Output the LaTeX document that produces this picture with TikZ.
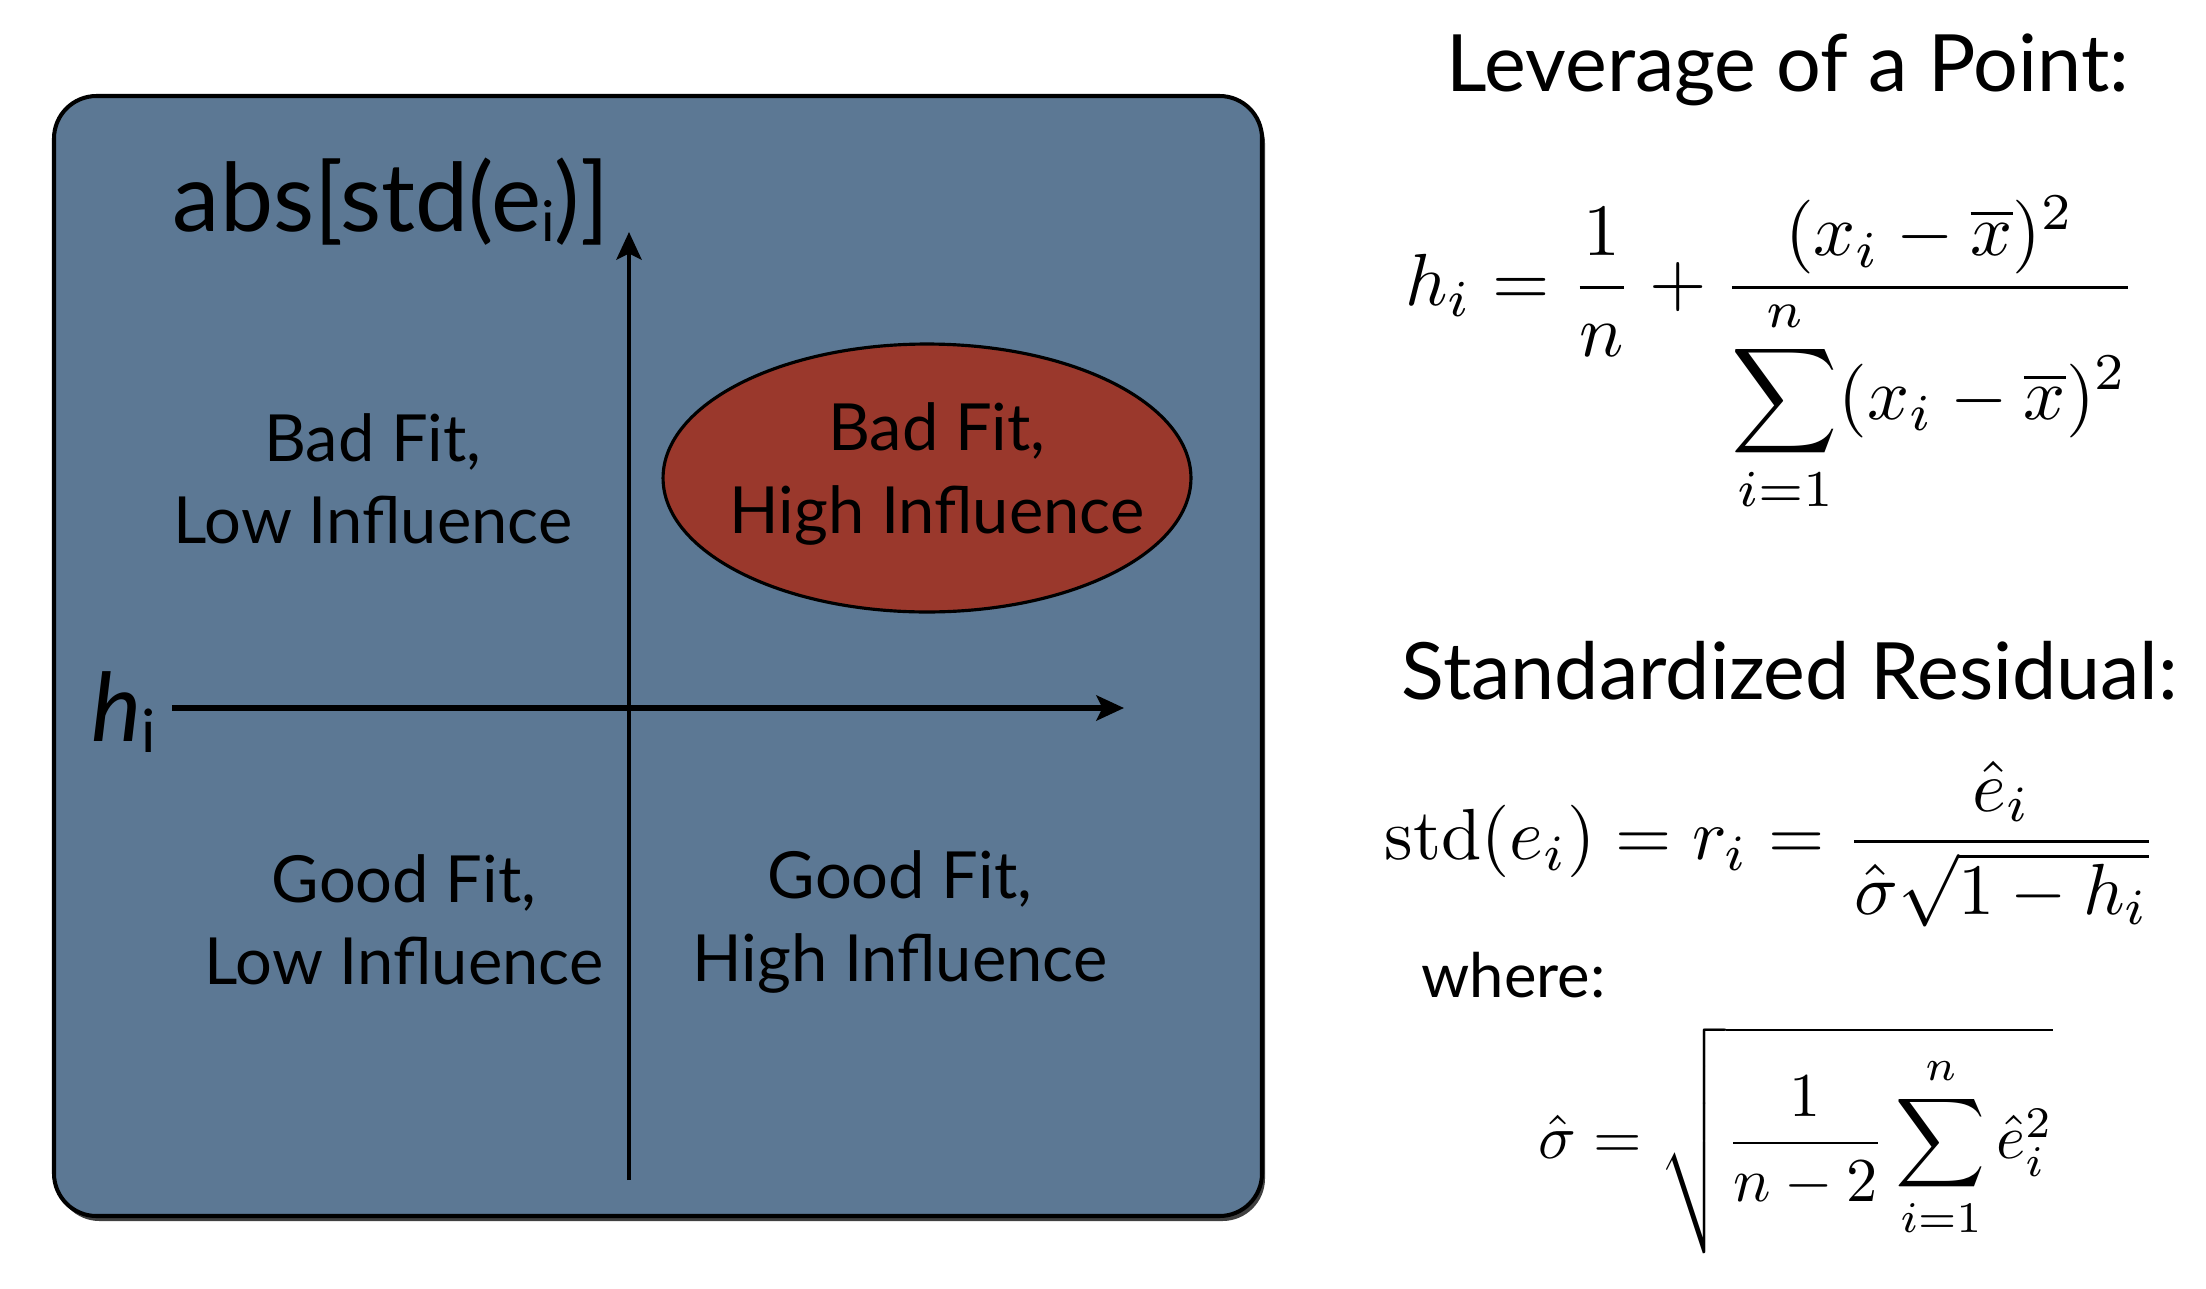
\documentclass[tikz,border=0pt]{standalone}
\usepackage[no-math]{fontspec}
\usepackage{amsmath}
\usepackage{graphicx}
\newfontfamily\gill{Lato}
\usetikzlibrary{arrows.meta,shapes.geometric}
\definecolor{panelblue}{RGB}{92,120,148}
\definecolor{bubblered}{RGB}{154,56,44}
\newcommand{\bigeq}[2]{\scalebox{#1}{\fontsize{10}{12}\selectfont #2}}
\begin{document}
\begin{tikzpicture}[x=0.02cm,y=-0.02cm,
  quad/.style={font=\gill\fontsize{37}{47}\selectfont, align=center, text=black, inner sep=0pt},
  title/.style={font=\gill\fontsize{45}{54}\selectfont, inner sep=0pt},
  eq/.style={inner sep=0pt},
  axisarrow/.style={-{Stealth[length=0.55cm,width=0.5cm,inset=0.12cm]}},
]
\useasboundingbox (0,0) rectangle (2206,1288);
\fill[white] (0,0) rectangle (2206,1288);
% panel
\fill[black!75, rounded corners=0.85cm] (57,101) rectangle (1265,1221);
\draw[fill=panelblue, line width=2.3pt, rounded corners=0.85cm] (54,96) rectangle (1262,1216);
% ellipse
\node[ellipse, draw, fill=bubblered, line width=1.8pt, minimum width=10.56cm, minimum height=5.36cm, inner sep=0pt] (bubble) at (927,478) {};
% axes
\coordinate (ybot) at (629,1180);
\coordinate (ytop) at (629,232);
\coordinate (xl) at (172,708);
\coordinate (xr) at (1124,708);
\draw[axisarrow, line width=2.8pt] (ybot) -- (ytop);
\draw[axisarrow, line width=3.8pt] (xl) -- (xr);
% axis labels
\node[font=\gill\fontsize{54}{60}\selectfont, inner sep=0pt] (ylab) at (391,202) {abs[std(e\raisebox{-0.1em}{\fontsize{32}{32}\selectfont i})]};
\node[font=\gill\fontsize{54}{60}\selectfont, inner sep=0pt] (xlab) at (124,712) {\itshape h\raisebox{-0.12em}{\upshape\fontsize{34}{34}\selectfont i}};
% quadrant labels
\node[quad] (bl) at (373,479) {Bad Fit,\\Low Influence};
\node[quad] (bh) at (937,474) {Bad Fit,\\High Influence};
\node[quad] (gl) at (404,920) {Good Fit,\\Low Influence};
\node[quad] (gh) at (900,922) {Good Fit,\\High Influence};
% right side
\node[title] (t1) at (1788,70) {Leverage of a Point:};
\node[eq] (hform) at (1771,355) {\bigeq{4.2}{$\displaystyle h_i = \frac{1}{n} + \frac{(x_i-\overline{x})^2}{\displaystyle\sum_{i=1}^{n}(x_i-\overline{x})^2}$}};
\node[title] (t2) at (1790,671) {Standardized Residual:};
\node[eq] (stdform) at (1771,844) {\bigeq{4.12}{$\displaystyle \mathrm{std}(e_i) = r_i = \frac{\hat{e}_i}{\hat{\sigma}\sqrt{1-h_i}}$}};
\node[font=\gill\fontsize{35}{42}\selectfont, inner sep=0pt, anchor=west] (where) at (1421,975) {where:};
\node[eq] (sigform) at (1796,1140) {\bigeq{3.55}{$\displaystyle \hat{\sigma} = \sqrt{\frac{1}{n-2}\sum_{i=1}^{n}\hat{e}_i^2}$}};
\end{tikzpicture}
\end{document}
